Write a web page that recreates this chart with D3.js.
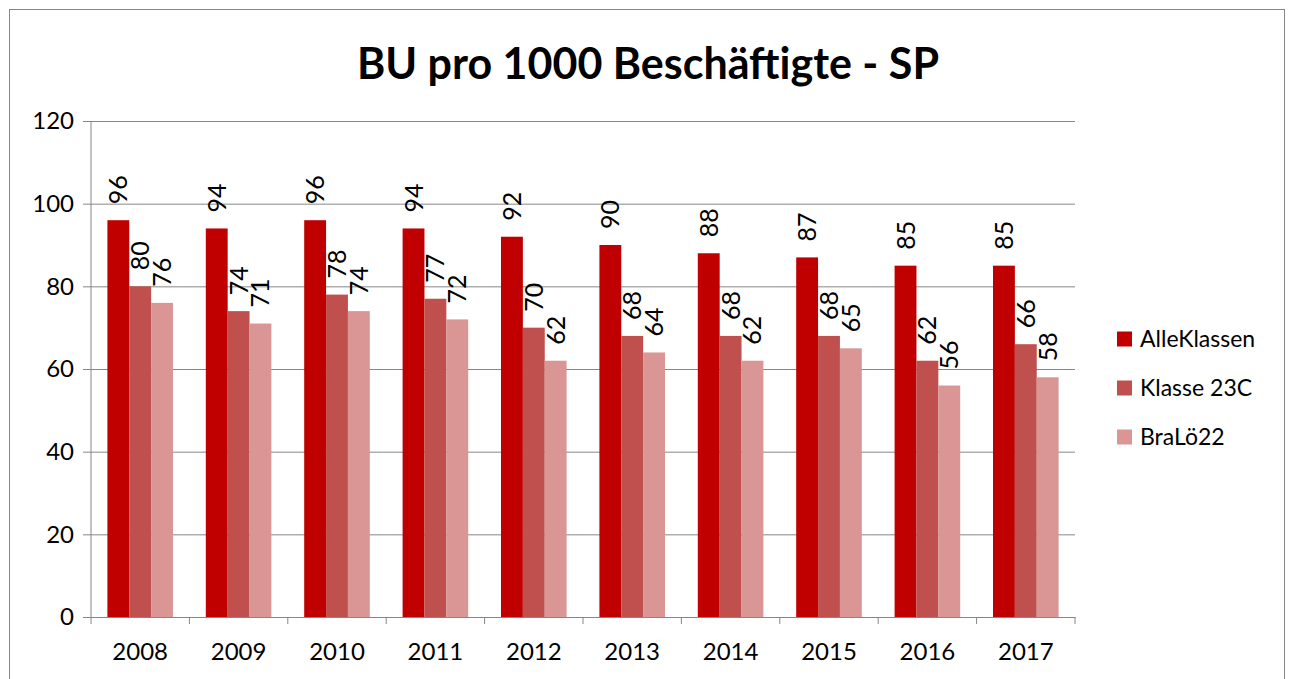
<!DOCTYPE html>
<html>
<head>
<meta charset="utf-8">
<script src="https://cdn.jsdelivr.net/npm/d3@7"></script>
<style>
  body { margin: 0; background: #fff; }
  svg { font-family: Lato, "Liberation Sans", sans-serif; }
</style>
</head>
<body>
<svg></svg>
<script>
let svgWidth = 1290;
let svgHeight = 679;

let years = ["2008", "2009", "2010", "2011", "2012", "2013", "2014", "2015", "2016", "2017"];
let seriesNames = ["AlleKlassen", "Klasse 23C", "BraLö22"];
let alleKlassen = [96, 94, 96, 94, 92, 90, 88, 87, 85, 85];
let klasse23C = [80, 74, 78, 77, 70, 68, 68, 68, 62, 66];
let braLoe22 = [76, 71, 74, 72, 62, 64, 62, 65, 56, 58];
let yTicks = [0, 20, 40, 60, 80, 100, 120];
let colors = ["#c00000", "#c0504d", "#d99694"];

let margin = {left: 91, right: 1075, top: 121, bottom: 617};

let svg = d3.select('svg').attr('width', svgWidth).attr('height', svgHeight);

// chart border
svg.append('rect')
    .attr('x', 9.5).attr('y', 9.5)
    .attr('width', 1275).attr('height', 680)
    .attr('fill', 'none').attr('stroke', '#868686').attr('stroke-width', 1);

svg.append('text')
    .attr('x', 648).attr('y', 79)
    .attr('text-anchor', 'middle')
    .attr('font-size', 43).attr('font-weight', 'bold')
    .attr('fill', '#000')
    .text("BU pro 1000 Beschäftigte - SP");

let xScale = d3.scaleBand().domain(years).range([margin.left, margin.right]).paddingInner(0).paddingOuter(0);
let innerScale = d3.scaleBand().domain(seriesNames).range([0, xScale.bandwidth()]).paddingOuter(0.75).paddingInner(0);
let yScale = d3.scaleLinear().domain([0, 120]).range([margin.bottom, margin.top]);

let y_axis = d3.axisLeft().scale(yScale).tickValues(yTicks)
    .tickSizeInner(-(margin.right - margin.left))
    .tickSizeOuter(0)
    .tickPadding(17)
    .tickFormat(d3.format(".0f"));

let gy = svg.append('g').attr('transform', 'translate(' + margin.left + ',0)').call(y_axis);
gy.select('.domain').remove();
gy.selectAll('.tick line').attr('stroke', '#868686').attr('x1', -8);
gy.selectAll('.tick text').attr('font-size', 24).attr('fill', '#000').attr('font-family', 'Lato');

let x_axis = d3.axisBottom().scale(xScale)
    .tickSizeInner(0)
    .tickSizeOuter(0)
    .tickPadding(26);

let gx = svg.append('g').attr('transform', 'translate(0,' + margin.bottom + ')').call(x_axis);
gx.select('.domain').attr('stroke', '#868686');
gx.selectAll('.tick text').attr('font-size', 24).attr('fill', '#000').attr('font-family', 'Lato');

// category separator ticks
let sepTicks = years.map(d => xScale(d)).concat([margin.right]);
svg.append('g').selectAll('line').data(sepTicks).enter().append('line')
    .attr('x1', d => d).attr('x2', d => d)
    .attr('y1', margin.bottom).attr('y2', margin.bottom + 7)
    .attr('stroke', '#868686');

// y axis line
svg.append('line')
    .attr('x1', margin.left).attr('x2', margin.left)
    .attr('y1', margin.top).attr('y2', margin.bottom)
    .attr('stroke', '#868686');

let allSeries = [alleKlassen, klasse23C, braLoe22];

for (let s = 0; s < allSeries.length; s++) {
    let g = svg.append('g');
    let values = allSeries[s];
    let bx = i => xScale(years[i]) + innerScale(seriesNames[s]);

    g.selectAll('rect').data(values).enter().append('rect')
        .attr('x', (d, i) => bx(i))
        .attr('y', d => yScale(d))
        .attr('width', innerScale.bandwidth())
        .attr('height', d => yScale(0) - yScale(d))
        .attr('fill', colors[s]);

    g.selectAll('text').data(values).enter().append('text')
        .attr('transform', (d, i) => 'translate(' + (bx(i) + innerScale.bandwidth() / 2 + 9) + ',' + (yScale(d) - 16) + ') rotate(-90)')
        .attr('font-size', 25)
        .attr('fill', '#000')
        .text(d => d);
}

// legend
let legend = svg.append('g').attr('transform', 'translate(1117,339)');
seriesNames.forEach(function(name, i) {
    legend.append('rect')
        .attr('x', 0).attr('y', i * 49 - 7.5)
        .attr('width', 15).attr('height', 15)
        .attr('fill', colors[i]);
    legend.append('text')
        .attr('x', 23).attr('y', i * 49 + 8)
        .attr('font-size', 23)
        .attr('fill', '#000')
        .text(name);
});
</script>
</body>
</html>
